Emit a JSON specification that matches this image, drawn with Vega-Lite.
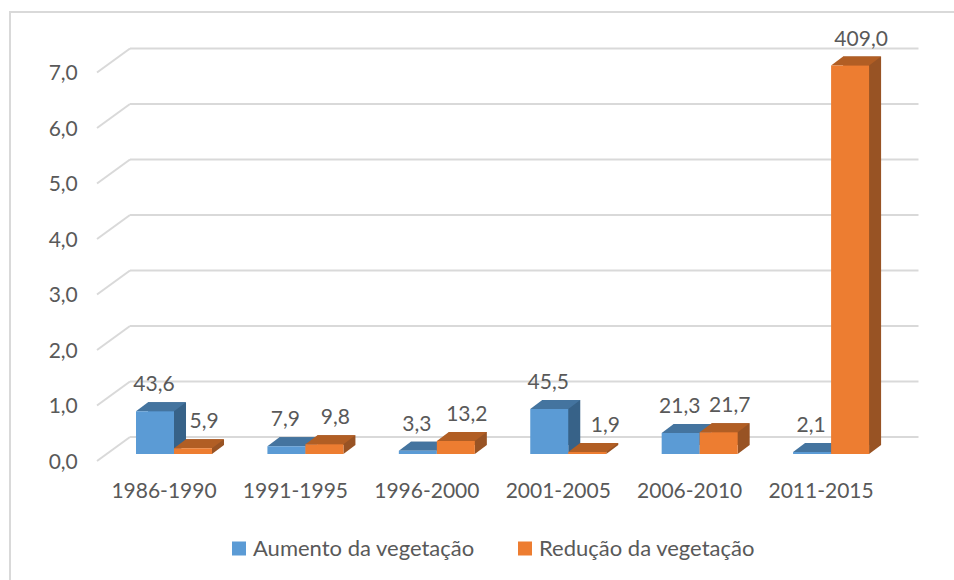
{
"$schema":"https://vega.github.io/schema/vega-lite/v6.json",
"width":788.5,"height":388.5,
"autosize":{"type":"none"},
"padding":{"left":108.3,"top":65.5,"right":57.2,"bottom":126},
"background":"white",
"config":{"view":{"stroke":null},"font":"Lato"},
"datasets":{
"bars":[
{"period":"1986-1990","series":"Aumento da vegetação","value":0.77,"label":"43,6"},
{"period":"1986-1990","series":"Redução da vegetação","value":0.105,"label":"5,9"},
{"period":"1991-1995","series":"Aumento da vegetação","value":0.14,"label":"7,9"},
{"period":"1991-1995","series":"Redução da vegetação","value":0.175,"label":"9,8"},
{"period":"1996-2000","series":"Aumento da vegetação","value":0.06,"label":"3,3"},
{"period":"1996-2000","series":"Redução da vegetação","value":0.235,"label":"13,2"},
{"period":"2001-2005","series":"Aumento da vegetação","value":0.81,"label":"45,5"},
{"period":"2001-2005","series":"Redução da vegetação","value":0.034,"label":"1,9"},
{"period":"2006-2010","series":"Aumento da vegetação","value":0.38,"label":"21,3"},
{"period":"2006-2010","series":"Redução da vegetação","value":0.39,"label":"21,7"},
{"period":"2011-2015","series":"Aumento da vegetação","value":0.037,"label":"2,1"},
{"period":"2011-2015","series":"Redução da vegetação","value":7,"label":"409,0"}
],
"ticks":[{"tick":0},{"tick":1},{"tick":2},{"tick":3},{"tick":4},{"tick":5},{"tick":6},{"tick":7}]
},
"encoding":{
"x":{"field":"period","type":"nominal","sort":null,"title":null,
 "scale":{"domain":["1986-1990","1991-1995","1996-2000","2001-2005","2006-2010","2011-2015"],"paddingInner":0,"paddingOuter":0},
 "axis":{"domain":false,"ticks":false,"labelAngle":0,"labelFontSize":21,"labelColor":"#595959","labelPadding":26,"labelOffset":-10,"labelLimit":0}},
"y":{"field":"value","type":"quantitative","stack":null,"title":null,
 "scale":{"domain":[0,7],"nice":false},
 "axis":{"domain":false,"ticks":false,"grid":false,"values":[0,1,2,3,4,5,6,7],"labelExpr":"replace(format(datum.value,'.1f'),'.',',')","labelFontSize":21,"labelColor":"#595959","labelPadding":31,"labelOffset":8}}
},
"layer":[
{"data":{"name":"ticks"},
 "transform":[{"filter":"datum.tick===0"}],
 "mark":{"type":"point","shape":"M-164,126L-164,-442L780,-442","size":4,"filled":false,"stroke":"#D9D9D9","strokeWidth":2,"opacity":1},
 "encoding":{"x":{"datum":"1986-1990"},"y":{"field":"tick","type":"quantitative"}}},
{"data":{"name":"ticks"},
 "mark":{"type":"rule","xOffset":21.7,"x2Offset":21.7,"yOffset":-17,"stroke":"#D9D9D9","strokeWidth":2},
 "encoding":{"x":{"value":0},"x2":{"value":788.5},"y":{"field":"tick","type":"quantitative"}}},
{"data":{"name":"ticks"},
 "mark":{"type":"point","shape":"M0,0L33,-24","size":4,"filled":false,"stroke":"#D9D9D9","strokeWidth":2,"opacity":1,"xOffset":-77,"yOffset":7},
 "encoding":{"x":{"datum":"1986-1990"},"y":{"field":"tick","type":"quantitative"}}},
{"data":{"name":"bars"},
 "transform":[{"filter":"datum.series==='Aumento da vegetação'"}],
 "mark":{"type":"bar","width":38,"xOffset":-7,"yOffset":-9,"y2Offset":-9,"color":"#376288"},
 "encoding":{"y2":{"datum":0}}},
{"data":{"name":"bars"},
 "transform":[{"filter":"datum.series==='Redução da vegetação'"}],
 "mark":{"type":"bar","width":38,"xOffset":31,"yOffset":-9,"y2Offset":-9,"color":"#985324"},
 "encoding":{"y2":{"datum":0}}},
{"data":{"name":"bars"},
 "mark":{"type":"point","shape":"M19,0L31,-9L19,-9Z","size":4,"filled":true,"opacity":1},
 "encoding":{"xOffset":{"field":"series","type":"nominal","scale":{"paddingInner":0,"paddingOuter":0.729}},"y":{"datum":0},"color":{"condition":{"test":"datum.series==='Aumento da vegetação'","value":"#376288"},"value":"#985324"}}},
{"data":{"name":"bars"},
 "mark":{"type":"point","shape":"M-19,0L19,0L31,-9L-7,-9Z","size":4,"filled":true,"opacity":1},
 "encoding":{"xOffset":{"field":"series","type":"nominal","scale":{"paddingInner":0,"paddingOuter":0.729}},"color":{"condition":{"test":"datum.series==='Aumento da vegetação'","value":"#44749F"},"value":"#B15E24"}}},
{"data":{"name":"bars"},
 "mark":{"type":"bar"},
 "encoding":{"xOffset":{"field":"series","type":"nominal","scale":{"paddingInner":0,"paddingOuter":0.729}},"y2":{"datum":0},"color":{"field":"series","type":"nominal","scale":{"range":["#5B9BD5","#ED7D31"]},
  "legend":{"orient":"none","legendX":119.7,"legendY":472,"direction":"horizontal","title":null,"symbolType":"square","symbolSize":196,"symbolStrokeWidth":0,"labelFontSize":22,"labelColor":"#595959","labelLimit":0,"columnPadding":39,"labelOffset":3}}}},
{"data":{"name":"bars"},
 "transform":[{"filter":"datum.series==='Aumento da vegetação'"}],
 "mark":{"type":"text","dy":-26,"dx":-1,"fontSize":21,"color":"#595959"},
 "encoding":{"xOffset":{"field":"series","type":"nominal","scale":{"paddingInner":0,"paddingOuter":0.729}},"text":{"field":"label"}}},
{"data":{"name":"bars"},
 "transform":[{"filter":"datum.series==='Redução da vegetação' && datum.label!=='1,9'"}],
 "mark":{"type":"text","dy":-26,"dx":11,"fontSize":21,"color":"#595959"},
 "encoding":{"xOffset":{"field":"series","type":"nominal","scale":{"paddingInner":0,"paddingOuter":0.729}},"text":{"field":"label"}}},
{"data":{"name":"bars"},
 "transform":[{"filter":"datum.label==='1,9'"}],
 "mark":{"type":"text","dy":-26,"dx":18,"fontSize":21,"color":"#595959"},
 "encoding":{"xOffset":{"field":"series","type":"nominal","scale":{"paddingInner":0,"paddingOuter":0.729}},"text":{"field":"label"}}}
]
}
